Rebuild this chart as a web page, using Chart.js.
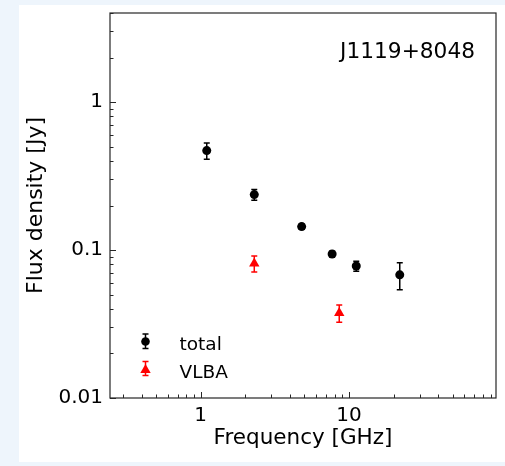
<!DOCTYPE html>
<html>
<head>
<meta charset="utf-8">
<script src="https://cdn.jsdelivr.net/npm/chart.js@4.4.1/dist/chart.umd.min.js"></script>
<style>
  html, body { margin: 0; padding: 0; background: #eef5fc; }
  #wrap { width: 505px; height: 466px; }
</style>
</head>
<body>
<div id="wrap"><canvas id="c" width="505" height="466"></canvas></div>
<script>
// data
const freqTotal = [1.1, 2.3, 4.8, 7.7, 11.2, 22];
const fluxTotal = [0.47, 0.237, 0.144, 0.094, 0.078, 0.068];
const errTotal = [0.06, 0.02, 0.006, 0.004, 0.006, 0.014];

const freqVlba = [2.3, 8.6];
const fluxVlba = [0.081, 0.0375];
const errVlba = [0.01, 0.005];

const yTicks = [0.01, 0.1, 1];
const xTicks = [1, 10];
const sourceName = 'J1119+8048';
const legendLabels = ['total', 'VLBA'];

const FONT = 'DejaVu Sans';

const toPoints = (xs, ys) => xs.map((x, i) => ({ x: x, y: ys[i] }));

// white figure box on the light blue page
const bgPlugin = {
  id: 'bg',
  beforeDraw(chart) {
    const ctx = chart.ctx;
    ctx.save();
    ctx.fillStyle = '#eef5fc';
    ctx.fillRect(0, 0, chart.width, chart.height);
    ctx.fillStyle = '#ffffff';
    ctx.fillRect(19, 5, chart.width - 19, 457);
    ctx.restore();
  }
};

function drawErr(ctx, px, pyTop, pyBot, color, cap) {
  ctx.strokeStyle = color;
  ctx.lineWidth = 1.5;
  ctx.beginPath();
  ctx.moveTo(px, pyTop); ctx.lineTo(px, pyBot);
  ctx.moveTo(px - cap, pyTop); ctx.lineTo(px + cap, pyTop);
  ctx.moveTo(px - cap, pyBot); ctx.lineTo(px + cap, pyBot);
  ctx.stroke();
}

// error bars under the markers
const errPlugin = {
  id: 'errbars',
  beforeDatasetsDraw(chart) {
    const ctx = chart.ctx;
    const xs = chart.scales.x, ys = chart.scales.y;
    ctx.save();
    const sets = [[freqTotal, fluxTotal, errTotal, '#000000'], [freqVlba, fluxVlba, errVlba, '#ff0000']];
    sets.forEach(([f, v, e, col]) => {
      f.forEach((fx, i) => {
        drawErr(ctx, xs.getPixelForValue(fx), ys.getPixelForValue(v[i] + e[i]), ys.getPixelForValue(v[i] - e[i]), col, 3);
      });
    });
    ctx.restore();
  }
};

// frame, inward ticks, legend and label
const framePlugin = {
  id: 'frame',
  afterDraw(chart) {
    const ctx = chart.ctx;
    const a = chart.chartArea;
    const xs = chart.scales.x, ys = chart.scales.y;
    ctx.save();
    ctx.strokeStyle = '#262626';
    ctx.lineWidth = 1.2;
    ctx.strokeRect(a.left, a.top, a.right - a.left, a.bottom - a.top);

    ctx.lineWidth = 1;
    ctx.beginPath();
    for (let d = -3; d <= 2; d++) {
      for (let m = 1; m <= 9; m++) {
        const v = m * Math.pow(10, d);
        const len = m === 1 ? 6 : 3.5;
        if (v >= ys.min && v <= ys.max) {
          const py = Math.round(ys.getPixelForValue(v)) + 0.5;
          ctx.moveTo(a.left, py); ctx.lineTo(a.left + len, py);
        }
        if (v >= xs.min && v <= xs.max) {
          const px = Math.round(xs.getPixelForValue(v)) + 0.5;
          ctx.moveTo(px, a.bottom); ctx.lineTo(px, a.bottom - len);
        }
      }
    }
    ctx.stroke();

    // name of the source
    ctx.fillStyle = '#000000';
    ctx.font = '21.7px "' + FONT + '"';
    ctx.textAlign = 'right';
    ctx.textBaseline = 'alphabetic';
    ctx.fillText(sourceName, 475, 58);

    // legend
    const lx = 145.5;
    drawErr(ctx, lx, 334, 348.5, '#000000', 3);
    ctx.fillStyle = '#000000';
    ctx.beginPath();
    ctx.arc(lx, 341.5, 4.3, 0, Math.PI * 2);
    ctx.fill();

    drawErr(ctx, lx, 361.5, 375.5, '#ff0000', 3);
    ctx.fillStyle = '#ff0000';
    ctx.beginPath();
    const r = 6, cy = 370;
    ctx.moveTo(lx, cy - r);
    ctx.lineTo(lx + r * 0.866, cy + r / 2);
    ctx.lineTo(lx - r * 0.866, cy + r / 2);
    ctx.closePath();
    ctx.fill();

    ctx.fillStyle = '#000000';
    ctx.font = '18.5px "' + FONT + '"';
    ctx.textAlign = 'left';
    ctx.textBaseline = 'alphabetic';
    ctx.fillText(legendLabels[0], 179.5, 350);
    ctx.fillText(legendLabels[1], 179.5, 378);
    ctx.restore();
  }
};

new Chart(document.getElementById('c'), {
  type: 'scatter',
  data: {
    datasets: [
      {
        label: legendLabels[0],
        data: toPoints(freqTotal, fluxTotal),
        pointStyle: 'circle',
        pointRadius: 4.5,
        backgroundColor: '#000000',
        borderColor: '#000000',
        borderWidth: 0
      },
      {
        label: legendLabels[1],
        data: toPoints(freqVlba, fluxVlba),
        pointStyle: 'triangle',
        pointRadius: 6,
        backgroundColor: '#ff0000',
        borderColor: '#ff0000',
        borderWidth: 0
      }
    ]
  },
  options: {
    responsive: false,
    animation: false,
    devicePixelRatio: 1,
    layout: { autoPadding: false, padding: { left: 0, top: 13, right: 9, bottom: 0 } },
    plugins: { legend: { display: false }, tooltip: { enabled: false } },
    scales: {
      x: {
        type: 'logarithmic',
        min: 0.245,
        max: 98,
        grid: { display: false, drawTicks: false },
        border: { display: false },
        afterFit(s) { s.height = 68; s.paddingLeft = 0; s.paddingRight = 0; },
        afterBuildTicks(s) { s.ticks = xTicks.map(v => ({ value: v })); },
        ticks: {
          autoSkip: false,
          maxRotation: 0,
          padding: 6,
          color: '#000000',
          font: { family: FONT, size: 20 },
          callback: v => String(v)
        },
        title: {
          display: true,
          text: 'Frequency [GHz]',
          color: '#000000',
          font: { family: FONT, size: 21.5 },
          padding: { top: 0, bottom: 15 }
        }
      },
      y: {
        type: 'logarithmic',
        min: 0.01,
        max: 4,
        grid: { display: false, drawTicks: false },
        border: { display: false },
        afterFit(s) { s.width = 110; s.paddingTop = 0; s.paddingBottom = 0; },
        afterBuildTicks(s) { s.ticks = yTicks.map(v => ({ value: v })); },
        ticks: {
          autoSkip: false,
          padding: 7,
          color: '#000000',
          font: { family: FONT, size: 20 },
          callback: v => String(v)
        },
        title: {
          display: true,
          text: 'Flux density [Jy]',
          color: '#000000',
          font: { family: FONT, size: 22 },
          padding: { top: 23, bottom: 0 }
        }
      }
    }
  },
  plugins: [bgPlugin, errPlugin, framePlugin]
});
</script>
</body>
</html>
